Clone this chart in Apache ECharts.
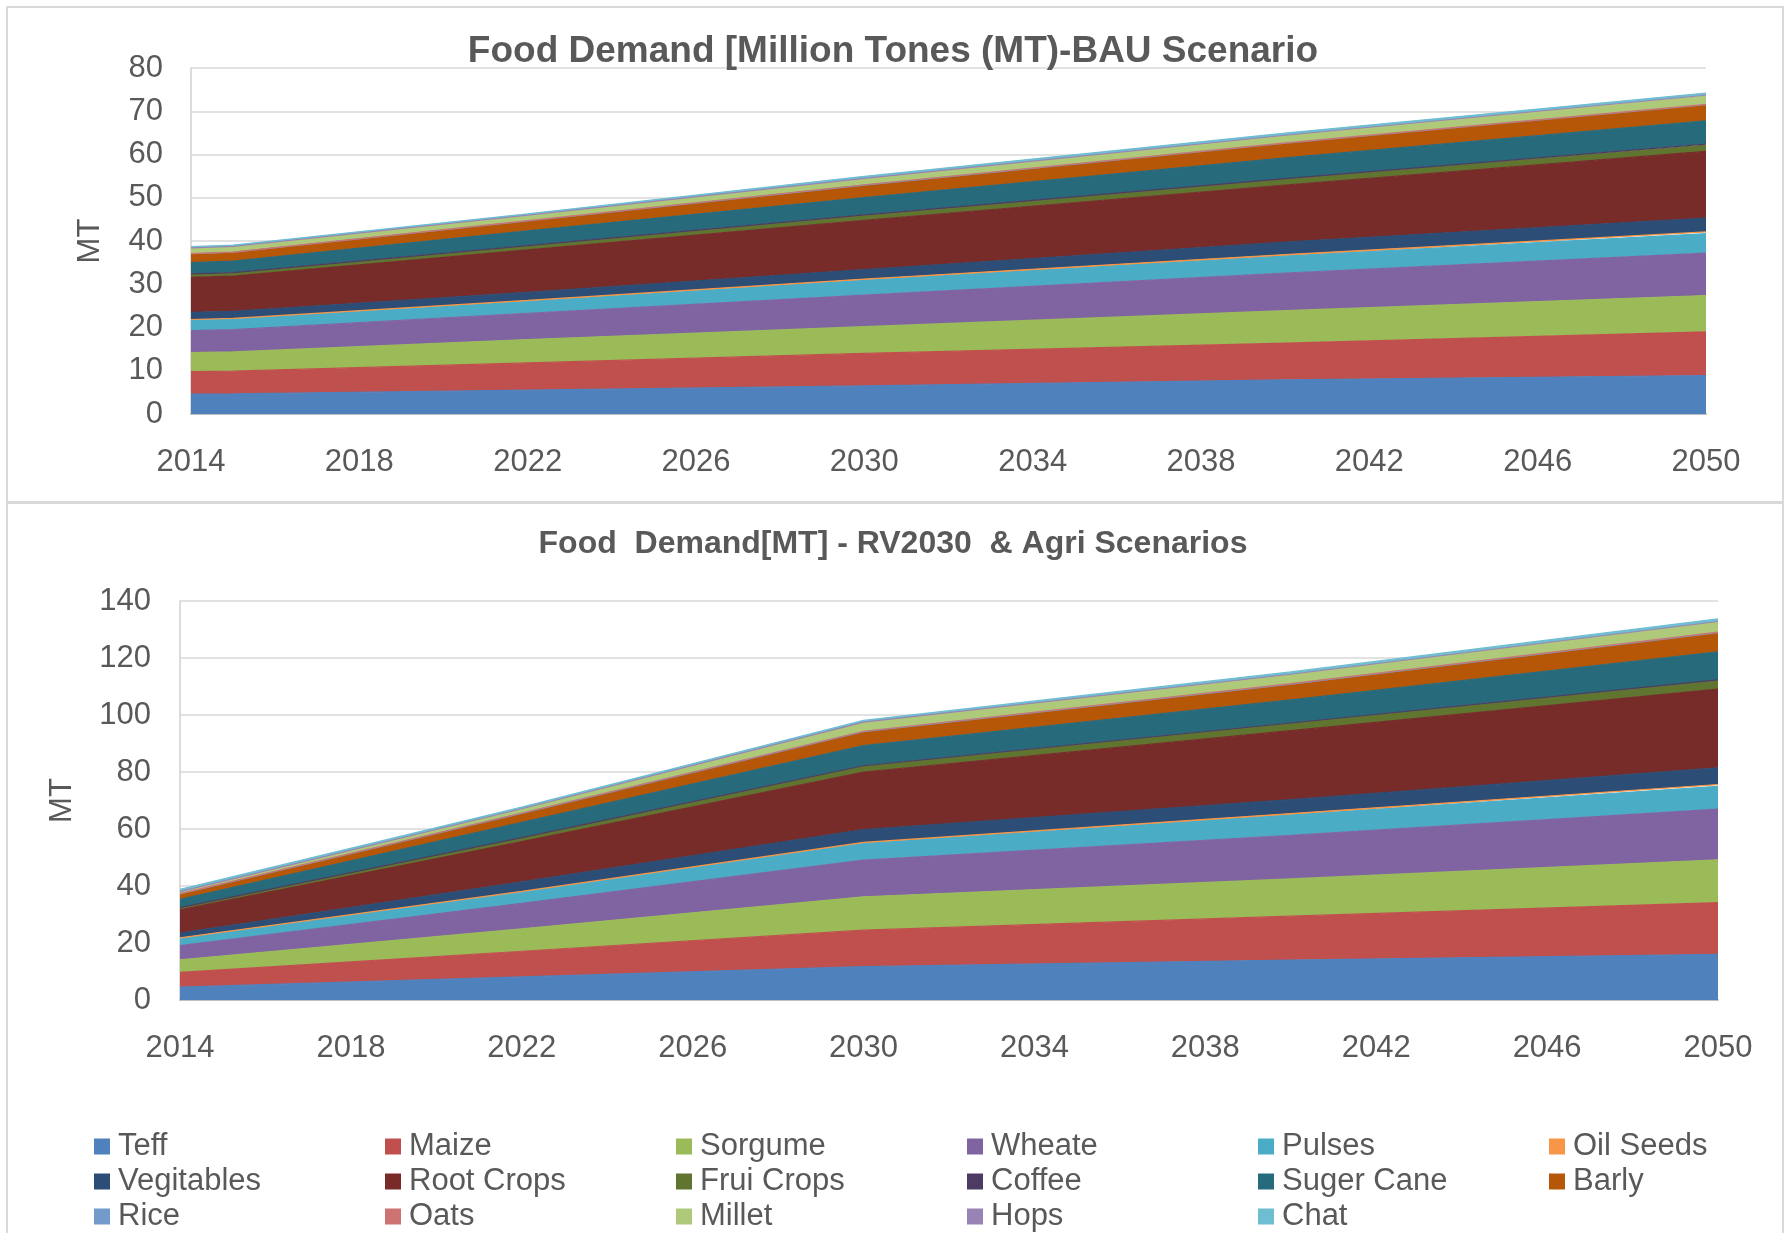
<!DOCTYPE html>
<html>
<head>
<meta charset="utf-8">
<title>Food Demand</title>
<script src="https://cdn.jsdelivr.net/npm/echarts@6/dist/echarts.min.js"></script>
<style>
  html, body { margin: 0; padding: 0; background: #ffffff; }
  #chart { width: 1786px; height: 1233px; }
</style>
</head>
<body>
<div id="chart"></div>
<script>
// Crop categories, in stacking order (bottom to top)
const crops = ['Teff', 'Maize', 'Sorgume', 'Wheate', 'Pulses', 'Oil Seeds',
  'Vegitables', 'Root Crops', 'Frui Crops', 'Coffee', 'Suger Cane', 'Barly',
  'Rice', 'Oats', 'Millet', 'Hops', 'Chat'];

// Year labels shown on both x axes
const tickYears = [2014, 2018, 2022, 2026, 2030, 2034, 2038, 2042, 2046, 2050];

// BAU scenario: demand per crop [MT] for each year, in crop order
const bauYears = [2014, 2015, 2022, 2030, 2040, 2050];
const bau2014 = [4.6, 5.2, 4.4, 5.1, 2.35, 0.2, 1.65, 8.1, 0.7, 0.1, 2.6, 2.0, 0.05, 0.05, 1.2, 0.1, 0.3];
const bau2015 = [4.65, 5.25, 4.45, 5.15, 2.4, 0.2, 1.65, 8.15, 0.7, 0.1, 2.65, 2.0, 0.05, 0.05, 1.2, 0.1, 0.3];
const bau2022 = [5.5, 6.3, 5.4, 6.1, 2.7, 0.25, 1.9, 9.8, 0.9, 0.1, 3.4, 2.2, 0.07, 0.07, 1.2, 0.1, 0.3];
const bau2030 = [6.5, 7.5, 6.2, 7.3, 3.4, 0.3, 2.2, 11.4, 1.1, 0.15, 4.0, 2.8, 0.08, 0.08, 1.3, 0.15, 0.5];
const bau2040 = [7.9, 8.5, 7.5, 8.7, 3.9, 0.35, 2.9, 13.2, 1.3, 0.15, 4.8, 3.3, 0.1, 0.1, 1.6, 0.15, 0.5];
const bau2050 = [8.9, 10.1, 8.4, 9.8, 4.5, 0.4, 3.2, 15.4, 1.5, 0.2, 5.4, 3.6, 0.1, 0.1, 1.9, 0.2, 0.5];

// RV2030 & Agri scenarios: demand per crop [MT] for each year, in crop order
const rvYears = [2014, 2022, 2030, 2040, 2050];
const rv2014 = [4.5, 5.2, 4.4, 5.0, 2.5, 0.2, 1.7, 8.1, 0.7, 0.1, 2.9, 1.8, 0.1, 0.1, 0.6, 0.1, 0.8];
const rv2022 = [8.1, 9.0, 7.9, 8.9, 3.9, 0.3, 3.4, 14.1, 1.3, 0.1, 5.3, 3.1, 0.1, 0.1, 1.4, 0.1, 0.6];
const rv2030 = [11.7, 12.8, 11.7, 12.9, 5.8, 0.4, 4.5, 20.2, 2.0, 0.2, 7.1, 4.7, 0.15, 0.15, 3.0, 0.2, 0.6];
const rv2040 = [14.0, 15.4, 13.1, 15.3, 7.1, 0.5, 4.9, 24.2, 2.5, 0.2, 8.1, 5.4, 0.15, 0.15, 3.1, 0.2, 0.8];
const rv2050 = [16.0, 18.2, 15.0, 17.8, 8.0, 0.6, 5.9, 27.6, 3.0, 0.2, 9.9, 6.5, 0.2, 0.2, 3.5, 0.2, 0.9];

// ---- styling ----
const palette = ['#4F81BD', '#C0504D', '#9BBB59', '#8064A2', '#4BACC6', '#F79646',
  '#2C4D75', '#772C2A', '#5F7530', '#4D3B62', '#276A7C', '#B65708',
  '#729ACA', '#CD7371', '#AFC97A', '#9983B5', '#6FBDD1'];
const FONT = '"Liberation Sans", Arial, Helvetica, sans-serif';
const TEXT = '#595959';
const GRID_LINE = '#D9D9D9';

// Each point is stored as [demand, year] so the demand column is the first
// numeric dimension and is the one that gets stacked; encode maps it to y.
function buildSeries(years, rows, axisIndex, stack) {
  return crops.map((name, c) => ({
    name: name,
    type: 'line',
    stack: stack,
    xAxisIndex: axisIndex,
    yAxisIndex: axisIndex,
    encode: { x: 1, y: 0 },
    data: years.map((y, r) => [rows[r][c], y]),
    symbol: 'none',
    showSymbol: false,
    lineStyle: { width: 1.2, color: palette[c] },
    itemStyle: { color: palette[c] },
    areaStyle: { color: palette[c], opacity: 1 },
    silent: true
  }));
}

function xAxisFor(i) {
  return {
    type: 'value',
    gridIndex: i,
    min: 2014,
    max: 2050,
    axisLine: { show: true, onZero: false, lineStyle: { color: '#BFBFBF', width: 2 } },
    axisTick: { show: false },
    splitLine: { show: false },
    axisLabel: {
      customValues: tickYears,
      formatter: v => String(v),
      color: TEXT, fontSize: 31, fontFamily: FONT, margin: 33
    }
  };
}

function yAxisFor(i, max, step, gap, labelMargin) {
  return {
    type: 'value',
    gridIndex: i,
    min: 0,
    max: max,
    interval: step,
    name: 'MT',
    nameLocation: 'middle',
    nameRotate: 90,
    nameGap: gap,
    nameTextStyle: { color: TEXT, fontSize: 31, fontFamily: FONT },
    axisLine: { show: true, lineStyle: { color: '#D0D0D0', width: 1.5 } },
    axisTick: { show: false },
    splitLine: { show: true, lineStyle: { color: GRID_LINE, width: 1.5 } },
    axisLabel: { color: TEXT, fontSize: 31, fontFamily: FONT, margin: labelMargin }
  };
}

// Legend: six columns, three rows
const legendCols = [0, 1, 2, 3, 4, 5].map(col => ({
  orient: 'vertical',
  left: 94 + 291 * col,
  top: 1131,
  padding: 0,
  itemWidth: 16,
  itemHeight: 16,
  itemGap: 4,
  icon: 'rect',
  selectedMode: false,
  textStyle: { color: TEXT, fontSize: 31, fontFamily: FONT, lineHeight: 31, padding: [0, 0, 0, 3] },
  data: crops.filter((_, k) => k % 6 === col)
}));

const option = {
  backgroundColor: '#ffffff',
  animation: false,
  title: [
    {
      text: 'Food Demand [Million Tones (MT)-BAU Scenario',
      left: 'center', top: 28,
      textStyle: { color: TEXT, fontSize: 37, fontWeight: 'bold', fontFamily: FONT }
    },
    {
      text: 'Food  Demand[MT] - RV2030  & Agri Scenarios',
      left: 'center', top: 523,
      textStyle: { color: TEXT, fontSize: 32, fontWeight: 'bold', fontFamily: FONT }
    }
  ],
  legend: legendCols,
  grid: [
    { left: 191, right: 80, top: 68, height: 346 },
    { left: 180, right: 68, top: 601, height: 399 }
  ],
  xAxis: [xAxisFor(0), xAxisFor(1)],
  yAxis: [yAxisFor(0, 80, 10, 85, 28), yAxisFor(1, 140, 20, 102, 29)],
  series: buildSeries(bauYears, [bau2014, bau2015, bau2022, bau2030, bau2040, bau2050], 0, 'bau')
    .concat(buildSeries(rvYears, [rv2014, rv2022, rv2030, rv2040, rv2050], 1, 'rv')),
  graphic: [
    { type: 'rect', silent: true, shape: { x: 7, y: 7, width: 1776, height: 495 },
      style: { fill: 'none', stroke: GRID_LINE, lineWidth: 2 } },
    { type: 'rect', silent: true, shape: { x: 7, y: 503, width: 1776, height: 760 },
      style: { fill: 'none', stroke: GRID_LINE, lineWidth: 2 } }
  ]
};

const chart = echarts.init(document.getElementById('chart'), null, { renderer: 'canvas' });
chart.setOption(option);
</script>
</body>
</html>
